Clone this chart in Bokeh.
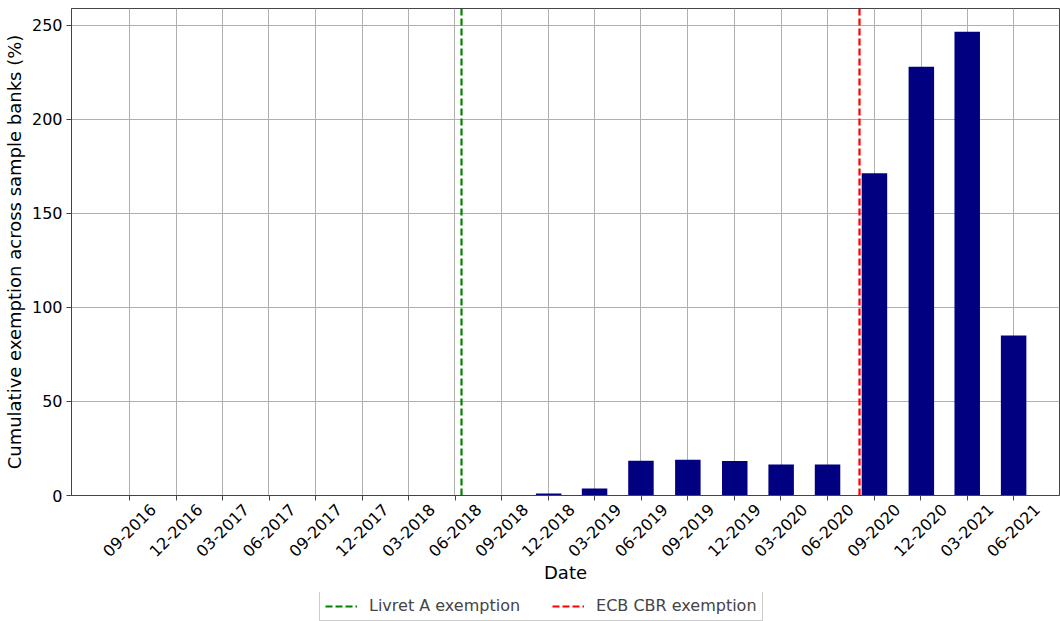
from datetime import datetime, timedelta
from bokeh.plotting import figure
from bokeh.layouts import column
from bokeh.models import (FixedTicker, Range1d, Legend, LegendItem,
                          ColumnDataSource, LinearAxis, Grid)
from bokeh.embed import file_html
from bokeh.resources import INLINE
import math

# ---- data ----
quarters = ["2016-09-30", "2016-12-31", "2017-03-31", "2017-06-30", "2017-09-30",
            "2017-12-31", "2018-03-31", "2018-06-30", "2018-09-30", "2018-12-31",
            "2019-03-31", "2019-06-30", "2019-09-30", "2019-12-31", "2020-03-31",
            "2020-06-30", "2020-09-30", "2020-12-31", "2021-03-31", "2021-06-30"]
tick_labels = ["09-2016", "12-2016", "03-2017", "06-2017", "09-2017", "12-2017",
               "03-2018", "06-2018", "09-2018", "12-2018", "03-2019", "06-2019",
               "09-2019", "12-2019", "03-2020", "06-2020", "09-2020", "12-2020",
               "03-2021", "06-2021"]
exemption = [0, 0, 0, 0, 0, 0, 0, 0, 0, 1.0,
             3.7, 18.5, 19.0, 18.4, 16.5, 16.5, 171.4, 228.0, 246.6, 85.1]
events = ["2018-07-13", "2020-09-01"]
event_labels = ["Livret A exemption", "ECB CBR exemption"]
event_colors = ["green", "red"]

dates = [datetime.strptime(d, "%Y-%m-%d") for d in quarters]
ev_dates = [datetime.strptime(d, "%Y-%m-%d") for d in events]

FONT = "DejaVu Sans"
DAY = 86400000
PAD_L, PAD_R = 114, 90          # days of padding on the x range
Q = 91.3                        # mean quarter length in days
SHIFT = 0.5                     # label offset (in quarters) so labels centre on ticks
n = len(dates)
DASH = "7 3"

p = figure(frame_width=988, frame_height=487, x_axis_type="datetime",
           x_axis_location=None,
           output_backend="svg", toolbar_location=None,
           x_range=Range1d(dates[0] - timedelta(days=PAD_L), dates[-1] + timedelta(days=PAD_R)),
           y_range=Range1d(0, 259),
           min_border_left=70, min_border_right=2, min_border_top=8, min_border_bottom=97)

p.extra_x_ranges = {"idx": Range1d(-PAD_L / Q - SHIFT, (n - 1) + PAD_R / Q - SHIFT)}

src = ColumnDataSource(dict(x=dates, top=exemption))
p.vbar(x="x", top="top", width=50 * DAY, source=src, fill_color="#000080",
       line_color="#000080", line_alpha=0.0)

for d, col in zip(ev_dates, event_colors):
    p.vspan(x=[d], line_color=col, line_width=2.2, line_dash=DASH)

# x axis: labels on integer positions of the shifted index range, tick marks as minor ticks
x_axis = LinearAxis(x_range_name="idx",
                    ticker=FixedTicker(ticks=list(range(n)),
                                       minor_ticks=[i - SHIFT for i in range(n)]),
                    major_label_overrides={i: t for i, t in enumerate(tick_labels)},
                    major_label_orientation=math.pi / 4,
                    axis_line_color="#444444",
                    major_tick_line_color=None, major_tick_in=0, major_tick_out=5,
                    minor_tick_line_color="#444444", minor_tick_line_width=1,
                    minor_tick_in=0, minor_tick_out=5,
                    major_label_standoff=6,
                    major_label_text_font=FONT, major_label_text_font_size="16px",
                    major_label_text_color="#000000",
                    axis_label="Date", axis_label_text_font=FONT,
                    axis_label_text_font_size="18px", axis_label_text_font_style="normal",
                    axis_label_text_color="#000000", axis_label_standoff=-3)
p.add_layout(x_axis, "below")

p.yaxis.ticker = FixedTicker(ticks=[0, 50, 100, 150, 200, 250])
p.yaxis.axis_label = "Cumulative exemption across sample banks (%)"
p.yaxis.axis_label_text_font = FONT
p.yaxis.axis_label_text_font_size = "18px"
p.yaxis.axis_label_text_font_style = "normal"
p.yaxis.axis_label_text_color = "#000000"
p.yaxis.major_label_text_font = FONT
p.yaxis.major_label_text_font_size = "16px"
p.yaxis.major_label_text_color = "#000000"
p.yaxis.major_label_standoff = 4
p.yaxis.axis_label_standoff = 4
p.yaxis.minor_tick_line_color = None
p.yaxis.major_tick_in = 0
p.yaxis.major_tick_out = 5
p.yaxis.axis_line_color = "#444444"
p.yaxis.major_tick_line_color = "#444444"

for g in list(p.grid):
    if g.dimension == 0:
        g.visible = False
p.add_layout(Grid(dimension=0, ticker=FixedTicker(ticks=[d.timestamp() * 1000 for d in dates]),
                  grid_line_color="#b0b0b0", grid_line_width=1))
p.ygrid.grid_line_color = "#b0b0b0"
p.ygrid.grid_line_width = 1
p.outline_line_color = "#444444"
p.outline_line_alpha = 1.0

# legend strip below the chart
lg = figure(width=1060, height=29, x_axis_type="datetime",
            x_range=Range1d(0, 1), y_range=Range1d(0, 1),
            x_axis_location=None, y_axis_location=None,
            toolbar_location=None, output_backend="svg",
            min_border=0, outline_line_color=None)
lg.grid.visible = False
items = []
for d, lab, col in zip(ev_dates, event_labels, event_colors):
    r = lg.vspan(x=[d], line_color=col, line_width=2.2, line_dash=DASH)
    items.append(LegendItem(label=lab, renderers=[r]))
legend = Legend(items=items, orientation="horizontal", location=(248, 0),
                label_text_font=FONT, label_text_font_size="16px",
                glyph_width=32, glyph_height=16, label_height=16, label_standoff=12,
                spacing=32, padding=5, margin=0,
                border_line_color="#cccccc", border_line_alpha=1.0)
lg.add_layout(legend, "center")

open("out.html", "w").write(file_html(column(p, lg, spacing=0), INLINE))
